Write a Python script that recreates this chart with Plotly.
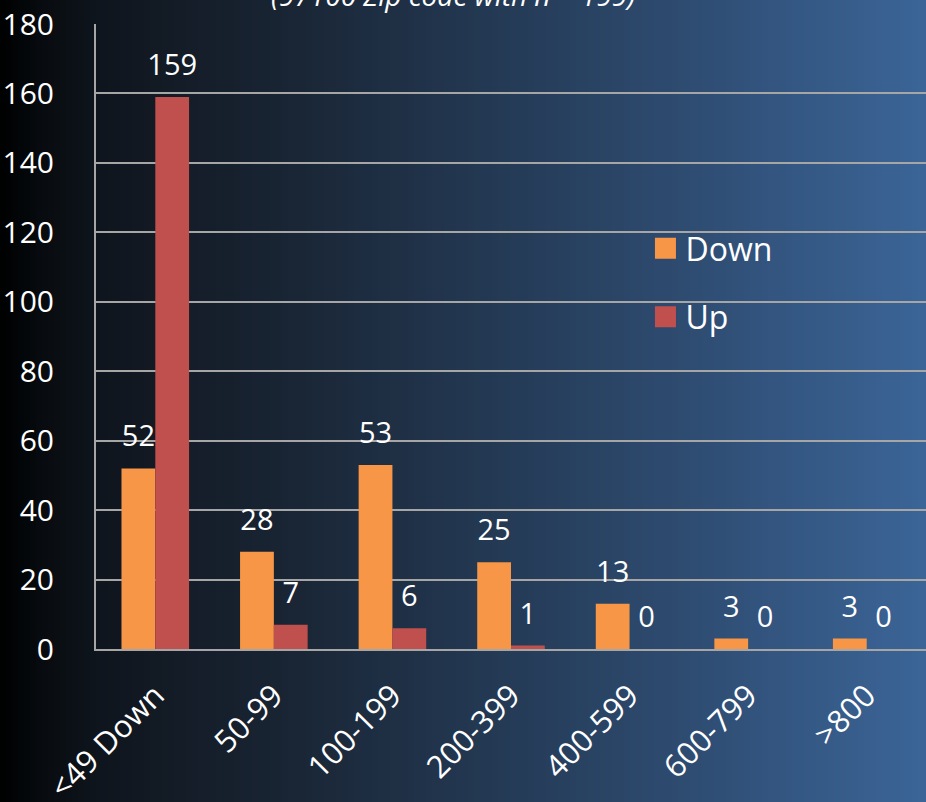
import plotly.graph_objects as go

categories = ["<49 Down", "50-99", "100-199", "200-399", "400-599", "600-799", ">800"]
down_values = [52, 28, 53, 25, 13, 3, 3]
up_values = [159, 7, 6, 1, 0, 0, 0]
y_ticks = [0, 20, 40, 60, 80, 100, 120, 140, 160, 180]

DOWN_COLOR = "#F79646"
UP_COLOR = "#C0504D"
GRID = "#a6a6a6"
FONT = "Open Sans"

W, H = 926, 802
ML, MR, MT, MB = 96, 0, 24, 153
plot_w = W - ML - MR

def lerp(c1, c2, t):
    return tuple(int(round(a + (b - a) * t)) for a, b in zip(c1, c2))

stops = [(0, (0, 0, 0)), (15, (2, 4, 6)), (45, (8, 12, 16)), (100, (15, 21, 29)),
         (300, (26, 38, 54)), (500, (36, 58, 85)), (700, (47, 77, 115)), (926, (59, 101, 152))]

def color_at(px):
    for (x1, c1), (x2, c2) in zip(stops[:-1], stops[1:]):
        if x1 <= px <= x2:
            return lerp(c1, c2, (px - x1) / (x2 - x1))
    return stops[-1][1]

shapes = []
step = 6
for px in range(0, W, step):
    c = color_at(px + step / 2)
    shapes.append(dict(type="rect", xref="paper", yref="paper", layer="below",
                       x0=(px - ML) / plot_w, x1=(px + step + 1 - ML) / plot_w,
                       y0=-MB / (H - MT - MB) - 0.01, y1=1 + MT / (H - MT - MB) + 0.01,
                       line=dict(width=0), fillcolor="rgb(%d,%d,%d)" % c))

fig = go.Figure()
for name, vals, col in [("Down", down_values, DOWN_COLOR), ("Up", up_values, UP_COLOR)]:
    fig.add_trace(go.Bar(x=categories, y=vals, name=name, marker_color=col,
                         marker_line_width=0, showlegend=False, hoverinfo="x+y+name"))
# value labels, grouped like the bars
for name, vals in [("Down", down_values), ("Up", up_values)]:
    fig.add_trace(go.Scatter(x=categories, y=vals, mode="markers+text", name=name + " label",
                             alignmentgroup="labels", offsetgroup=name,
                             text=[str(v) for v in vals], textposition="top center",
                             marker=dict(size=22, color="rgba(0,0,0,0)"),
                             textfont=dict(size=29, color="white", family=FONT),
                             cliponaxis=False, showlegend=False, hoverinfo="skip"))
# legend entries (kept off the main axes so they do not join the label grouping)
for name, col, grp in [("Down", DOWN_COLOR, "d"), ("Up", UP_COLOR, "u")]:
    fig.add_trace(go.Scatter(x=[None], y=[None], mode="markers", name=name, legendgroup=grp,
                             xaxis="x2", yaxis="y2", hoverinfo="skip",
                             marker=dict(symbol="square", size=16, color=col,
                                         line=dict(width=8, color=col))))

fig.add_annotation(text="<i>(97100 Zip code with n = 199)</i>", xref="paper", yref="paper",
                   x=0.43, y=1 + 29 / (H - MT - MB), showarrow=False,
                   font=dict(size=28, color="white", family=FONT), yanchor="middle")

fig.update_layout(
    width=W, height=H,
    margin=dict(l=ML, r=MR, t=MT, b=MB),
    paper_bgcolor="#000000", plot_bgcolor="rgba(0,0,0,0)",
    barmode="group", bargap=0.43, bargroupgap=0,
    scattermode="group", scattergap=0.43,
    shapes=shapes,
    font=dict(family=FONT, color="white", size=28),
    legend=dict(x=0.662, y=0.685, xanchor="left", yanchor="top", bgcolor="rgba(0,0,0,0)",
                font=dict(size=32, color="white", family=FONT), tracegroupgap=24,
                itemwidth=30),
    xaxis=dict(showline=True, linecolor=GRID, linewidth=2, tickangle=-45,
               tickfont=dict(size=31, color="white", family=FONT), ticks="",
               ticklabelstandoff=14, automargin=False, fixedrange=True),
    yaxis=dict(range=[0, 180], tickvals=y_ticks, showgrid=True, gridcolor=GRID, gridwidth=2,
               showline=True, linecolor=GRID, linewidth=2, zeroline=False, ticks="",
               tickfont=dict(size=30, color="white", family=FONT), ticklabelstandoff=34,
               automargin=False),
    xaxis2=dict(overlaying="x", visible=False, range=[0, 1]),
    yaxis2=dict(overlaying="y", visible=False, range=[0, 1]),
)

fig.write_html("out.html")
